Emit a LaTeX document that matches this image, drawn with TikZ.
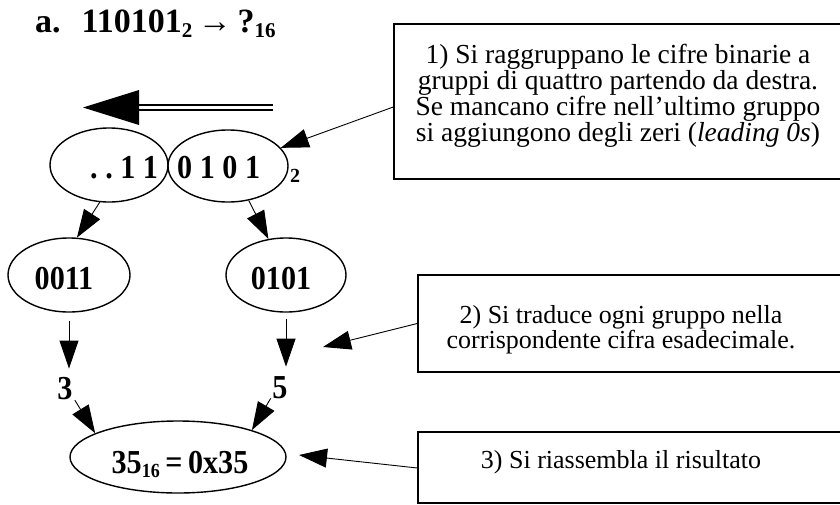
\documentclass[tikz,border=0pt]{standalone}
\usepackage{fontspec}
\setmainfont{Liberation Serif}
\newfontfamily\narrowserif[FakeStretch=0.9]{Liberation Serif}
\usetikzlibrary{shapes.geometric,arrows.meta}
\begin{document}
\begin{tikzpicture}[x=1pt,y=-1pt,
  ell/.style={draw, ellipse, line width=1.4pt, inner sep=0pt},
  digit/.style={font=\narrowserif\fontsize{33.5}{33.5}\selectfont\bfseries, inner sep=0pt},
  conn/.style={line width=0.9pt, -{Triangle[length=28pt,width=19pt]}},
  boxframe/.style={draw, line width=1.4pt, rectangle, inner sep=0pt},
  boxtext/.style={font=\fontsize{26}{22.7}\selectfont, align=center, inner sep=0pt}]
\useasboundingbox (0,0) rectangle (840,504);
\clip (0,0) rectangle (840,504);

% title
\node[anchor=base west, inner sep=0pt, font=\fontsize{34}{34}\selectfont\bfseries] (title) at (35,32)
  {a.\hspace{21pt}110101\raisebox{-5pt}{\fontsize{21}{21}\selectfont 2}\,→\,?\raisebox{-5pt}{\fontsize{21}{21}\selectfont 16}};

% double arrow (direction of grouping)
\coordinate (dA) at (273,107.5);
\coordinate (dB) at (139,107.5);
\coordinate (dTip) at (83,107.5);
\draw[line width=2pt, double, double distance=2.5pt] (dA) -- (dB);
\fill (dTip) -- ([yshift=17.5pt]dB) -- ([yshift=-17.5pt]dB) -- cycle;

% top ellipses
\node[ell, minimum width=118pt, minimum height=74pt] (L1) at (109,165) {};
\node[ell, minimum width=120pt, minimum height=72pt] (R1) at (228,166) {};
\node[digit, anchor=base west] (tL1) at (90,178) {.\ .\ 1\ 1};
\node[digit, anchor=base west] (tR1) at (177,178) {0\ 1\ 0\ 1};
\node[inner sep=0pt, anchor=base west, font=\fontsize{20}{20}\selectfont\bfseries] (sub2) at (290,182) {2};

% groups
\node[ell, minimum width=122pt, minimum height=74pt] (A) at (69,275) {};
\node[ell, minimum width=120pt, minimum height=74pt] (B) at (286,275) {};
\node[digit] (tA) at (64,278.5) {0011};
\node[digit] (tB) at (281,278.5) {0101};

% hex digits
\node[digit] (n3) at (65,389) {3};
\node[digit] (n5) at (280,388) {5};

% result
\node[ell, minimum width=216pt, minimum height=72pt] (C) at (178,457) {};
\node[digit, anchor=base] (tC) at (180,473)
  {35\raisebox{-4pt}{\fontsize{20}{20}\selectfont 16}\,=\,0x35};

% boxes
\node[boxframe, minimum width=448pt, minimum height=155pt] (box1) at (618,101.5) {};
\node[boxtext, anchor=north, font=\fontsize{27.5}{22.7}\selectfont] (txt1) at (618,43.5)
  {1) Si raggruppano le cifre binarie a\\
   gruppi di quattro partendo da destra.\\
   Se mancano cifre nell’ultimo gruppo\\
   si aggiungono degli zeri (\textit{leading 0s})};
\node[boxframe, minimum width=424pt, minimum height=97pt] (box2) at (630,323.5) {};
\node[boxtext, anchor=north] (txt2) at (621,305)
  {2) Si traduce ogni gruppo nella\\
   corrispondente cifra esadecimale.};
\node[boxframe, minimum width=424pt, minimum height=71pt] (box3) at (630,467.5) {};
\node[boxtext, anchor=base] (txt3) at (621,468) {3) Si riassembla il risultato};

% connectors
\draw[conn] ([yshift=-5.5pt]box1.west) -- (R1.19.5);
\draw[conn] (L1.256) -- (A.78);
\draw[conn] (R1.301) -- (B.116);
\draw[conn, shorten <=8pt, shorten >=9pt] (A.south) -- (A.south |- n3.north);
\draw[conn, shorten <=6pt, shorten >=10pt] (B.south) -- (B.south |- n5.north);
\draw[conn, shorten <=4pt] (n3.-45) -- (C.164);
\draw[conn, shorten <=3pt] (n5.225) -- (C.20);
\coordinate (t2) at (323,347);
\coordinate (t3) at (299,455);
\draw[conn] (box2.west) -- (t2);
\draw[conn] ([yshift=-0.5pt]box3.west) -- (t3);
\end{tikzpicture}
\end{document}
